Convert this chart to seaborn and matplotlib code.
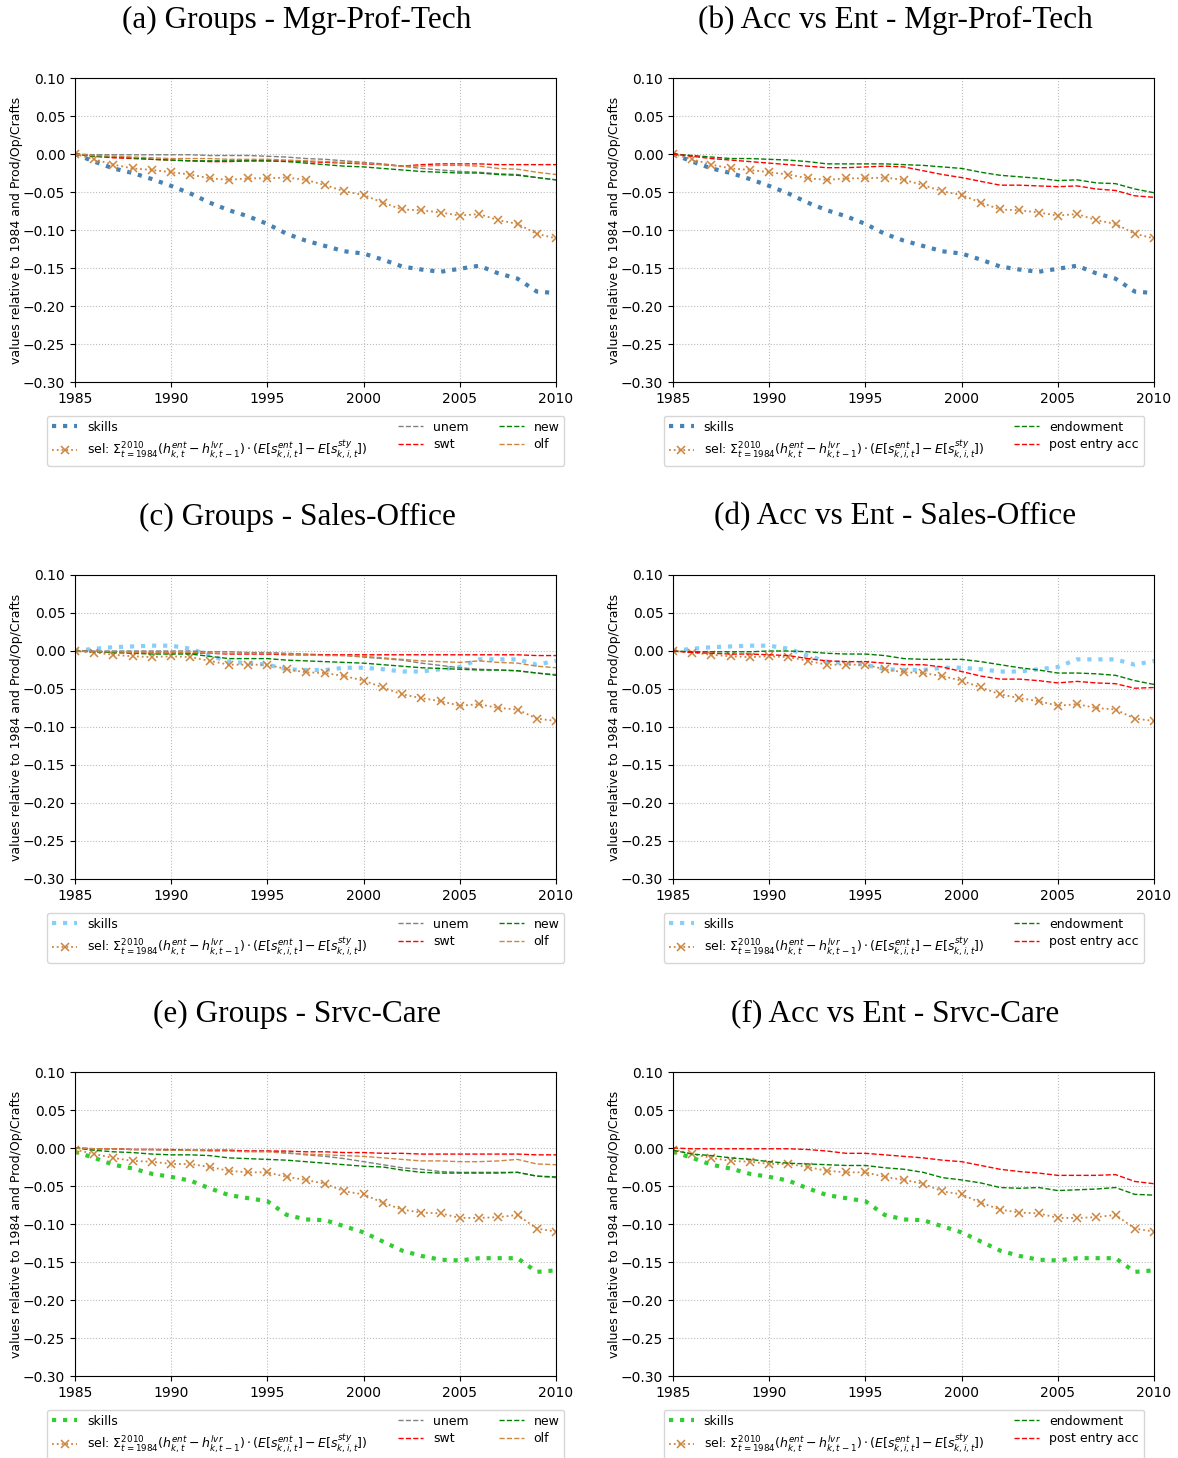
import matplotlib
matplotlib.use("Agg")
import matplotlib.pyplot as plt
import seaborn as sns
import numpy as np

years = list(range(1985, 2011))
xticks = [1985, 1990, 1995, 2000, 2005, 2010]
yticks = [0.10, 0.05, 0.00, -0.05, -0.10, -0.15, -0.20, -0.25, -0.30]

titles_groups = ["(a) Groups - Mgr-Prof-Tech", "(c) Groups - Sales-Office", "(e) Groups - Srvc-Care"]
titles_acc = ["(b) Acc vs Ent - Mgr-Prof-Tech", "(d) Acc vs Ent - Sales-Office", "(f) Acc vs Ent - Srvc-Care"]

# --- Mgr-Prof-Tech ---
skills_mpt = [0, -0.010, -0.019, -0.025, -0.033, -0.042, -0.052, -0.064, -0.074, -0.082, -0.092, -0.105, -0.114,
              -0.121, -0.128, -0.131, -0.139, -0.148, -0.152, -0.155, -0.151, -0.147, -0.157, -0.164, -0.181, -0.183]
sel_mpt = [0, -0.007, -0.014, -0.019, -0.021, -0.024, -0.027, -0.032, -0.034, -0.032, -0.032, -0.031, -0.034,
           -0.041, -0.049, -0.054, -0.064, -0.073, -0.074, -0.077, -0.081, -0.079, -0.087, -0.092, -0.105, -0.111]
unem_mpt = [0, -0.001, -0.001, -0.001, -0.001, -0.001, -0.001, -0.002, -0.002, -0.002, -0.003, -0.004, -0.006,
            -0.007, -0.009, -0.011, -0.013, -0.016, -0.019, -0.021, -0.023, -0.024, -0.026, -0.027, -0.031, -0.034]
swt_mpt = [0, -0.003, -0.005, -0.006, -0.007, -0.008, -0.009, -0.010, -0.010, -0.009, -0.009, -0.009, -0.010,
           -0.011, -0.012, -0.013, -0.014, -0.016, -0.014, -0.013, -0.013, -0.013, -0.014, -0.014, -0.014, -0.014]
new_mpt = [0, -0.003, -0.004, -0.005, -0.007, -0.008, -0.009, -0.009, -0.009, -0.009, -0.009, -0.010, -0.012,
           -0.014, -0.016, -0.017, -0.019, -0.021, -0.023, -0.024, -0.025, -0.025, -0.027, -0.028, -0.031, -0.034]
olf_mpt = [0, -0.002, -0.003, -0.004, -0.005, -0.006, -0.006, -0.006, -0.007, -0.007, -0.007, -0.008, -0.009,
           -0.010, -0.011, -0.012, -0.014, -0.016, -0.016, -0.015, -0.015, -0.016, -0.019, -0.020, -0.024, -0.027]
endow_mpt = [0, -0.002, -0.004, -0.006, -0.006, -0.007, -0.008, -0.010, -0.013, -0.013, -0.013, -0.013, -0.014,
             -0.015, -0.017, -0.019, -0.024, -0.028, -0.030, -0.032, -0.035, -0.034, -0.038, -0.039, -0.046, -0.051]
acc_mpt = [0, -0.003, -0.006, -0.008, -0.010, -0.012, -0.014, -0.016, -0.018, -0.018, -0.017, -0.016, -0.017,
           -0.022, -0.027, -0.031, -0.036, -0.041, -0.041, -0.042, -0.043, -0.042, -0.046, -0.048, -0.055, -0.057]

# --- Sales-Office ---
skills_so = [0, 0.003, 0.005, 0.006, 0.007, 0.007, 0.003, -0.006, -0.014, -0.016, -0.018, -0.024, -0.025,
             -0.025, -0.022, -0.022, -0.024, -0.027, -0.027, -0.024, -0.021, -0.011, -0.011, -0.011, -0.018, -0.013]
sel_so = [0, -0.002, -0.005, -0.007, -0.008, -0.007, -0.008, -0.013, -0.018, -0.018, -0.018, -0.024, -0.028,
          -0.029, -0.033, -0.039, -0.048, -0.057, -0.062, -0.066, -0.072, -0.070, -0.075, -0.077, -0.089, -0.092]
unem_so = [0, 0.000, 0.000, 0.000, 0.000, 0.000, 0.000, -0.001, -0.001, -0.002, -0.002, -0.003, -0.004,
           -0.005, -0.006, -0.008, -0.010, -0.012, -0.016, -0.019, -0.022, -0.024, -0.025, -0.026, -0.029, -0.031]
swt_so = [0, -0.001, -0.002, -0.002, -0.002, -0.002, -0.003, -0.003, -0.004, -0.004, -0.004, -0.005, -0.005,
          -0.005, -0.005, -0.005, -0.005, -0.005, -0.005, -0.005, -0.005, -0.005, -0.005, -0.005, -0.006, -0.006]
new_so = [0, -0.001, -0.002, -0.003, -0.004, -0.004, -0.004, -0.007, -0.010, -0.010, -0.010, -0.012, -0.013,
          -0.014, -0.015, -0.016, -0.018, -0.020, -0.022, -0.023, -0.024, -0.025, -0.025, -0.026, -0.029, -0.032]
olf_so = [0, -0.001, -0.001, -0.002, -0.002, -0.002, -0.002, -0.003, -0.003, -0.003, -0.003, -0.004, -0.005,
          -0.006, -0.006, -0.007, -0.009, -0.011, -0.013, -0.014, -0.015, -0.013, -0.015, -0.016, -0.020, -0.022]
endow_so = [0, -0.001, -0.001, -0.001, -0.001, 0.000, 0.000, -0.001, -0.003, -0.004, -0.004, -0.006, -0.010,
            -0.011, -0.011, -0.011, -0.014, -0.018, -0.022, -0.025, -0.029, -0.029, -0.030, -0.032, -0.039, -0.044]
acc_so = [0, -0.002, -0.003, -0.004, -0.004, -0.005, -0.006, -0.010, -0.013, -0.014, -0.014, -0.016, -0.018,
          -0.018, -0.021, -0.027, -0.033, -0.037, -0.037, -0.039, -0.042, -0.040, -0.042, -0.043, -0.049, -0.048]

# --- Srvc-Care ---
skills_sc = [-0.005, -0.013, -0.022, -0.027, -0.034, -0.038, -0.043, -0.053, -0.062, -0.066, -0.070, -0.088, -0.094,
             -0.095, -0.103, -0.111, -0.123, -0.135, -0.142, -0.147, -0.148, -0.145, -0.145, -0.145, -0.163, -0.161]
sel_sc = [-0.002, -0.008, -0.013, -0.017, -0.018, -0.021, -0.021, -0.025, -0.030, -0.032, -0.032, -0.038, -0.042,
          -0.047, -0.057, -0.061, -0.072, -0.081, -0.085, -0.086, -0.092, -0.092, -0.091, -0.088, -0.106, -0.110]
unem_sc = [0, -0.001, -0.001, -0.002, -0.002, -0.003, -0.003, -0.003, -0.003, -0.004, -0.004, -0.006, -0.009,
           -0.011, -0.014, -0.018, -0.022, -0.026, -0.028, -0.031, -0.032, -0.032, -0.032, -0.032, -0.037, -0.039]
swt_sc = [0, -0.001, -0.001, -0.002, -0.002, -0.002, -0.003, -0.003, -0.003, -0.004, -0.004, -0.004, -0.005,
          -0.005, -0.006, -0.006, -0.007, -0.007, -0.008, -0.008, -0.008, -0.008, -0.008, -0.008, -0.009, -0.009]
new_sc = [0, -0.003, -0.005, -0.006, -0.008, -0.009, -0.009, -0.010, -0.013, -0.014, -0.015, -0.016, -0.018,
          -0.020, -0.022, -0.024, -0.025, -0.029, -0.032, -0.033, -0.033, -0.033, -0.033, -0.032, -0.037, -0.038]
olf_sc = [0, -0.001, -0.001, -0.002, -0.002, -0.003, -0.003, -0.004, -0.004, -0.005, -0.005, -0.007, -0.008,
          -0.009, -0.010, -0.011, -0.013, -0.015, -0.017, -0.017, -0.018, -0.018, -0.017, -0.015, -0.021, -0.022]
endow_sc = [-0.003, -0.008, -0.010, -0.013, -0.015, -0.018, -0.020, -0.021, -0.022, -0.023, -0.023, -0.026, -0.028,
            -0.032, -0.039, -0.042, -0.046, -0.052, -0.053, -0.052, -0.056, -0.055, -0.054, -0.052, -0.061, -0.062]
acc_sc = [0, -0.001, -0.001, -0.001, -0.001, -0.001, -0.001, -0.002, -0.004, -0.007, -0.007, -0.009, -0.011,
          -0.013, -0.016, -0.018, -0.023, -0.028, -0.031, -0.033, -0.036, -0.036, -0.036, -0.035, -0.044, -0.047]

SEL_LABEL = (r"sel: $\Sigma_{t=1984}^{2010}(h_{k,t}^{ent}-h_{k,t-1}^{lvr})"
             r"\cdot(E[s_{k,i,t}^{ent}]-E[s_{k,i,t}^{sty}])$")
YLABEL = "values relative to 1984 and Prod/Op/Crafts"

rows = [
    dict(skills=skills_mpt, sel=sel_mpt, unem=unem_mpt, swt=swt_mpt, new=new_mpt, olf=olf_mpt,
         endow=endow_mpt, acc=acc_mpt, scol="steelblue"),
    dict(skills=skills_so, sel=sel_so, unem=unem_so, swt=swt_so, new=new_so, olf=olf_so,
         endow=endow_so, acc=acc_so, scol="lightskyblue"),
    dict(skills=skills_sc, sel=sel_sc, unem=unem_sc, swt=swt_sc, new=new_sc, olf=olf_sc,
         endow=endow_sc, acc=acc_sc, scol="limegreen"),
]

W, H = 1178, 1458
fig = plt.figure(figsize=(W / 100, H / 100), dpi=100)

col_left = [75, 673]
ax_w = 481
row_top = [78, 575, 1072]
ax_h = 304
title_y = [20, 517, 1014]
title_x = [297, 895]


def common(ax, data):
    sns.lineplot(x=years, y=data["skills"], ax=ax, color=data["scol"], linestyle=":", linewidth=3,
                 label="skills")
    sns.lineplot(x=years, y=data["sel"], ax=ax, color="peru", linestyle=":", linewidth=1.3,
                 marker="x", markersize=6, markeredgewidth=1.1, markeredgecolor="peru", label=SEL_LABEL)


def style(ax):
    ax.set_xlim(1985, 2010)
    ax.set_ylim(-0.30, 0.10)
    ax.set_xticks(xticks)
    ax.set_yticks(yticks)
    ax.grid(True, linestyle=":", color="#bbbbbb", linewidth=0.8)
    ax.set_axisbelow(True)
    ax.set_ylabel(YLABEL, fontsize=9)
    ax.yaxis.set_label_coords(-0.108, 0.5)
    ax.set_xlabel("")
    ax.tick_params(labelsize=10)


for r, data in enumerate(rows):
    for c in range(2):
        left = col_left[c] / W
        bottom = 1 - (row_top[r] + ax_h) / H
        ax = fig.add_axes([left, bottom, ax_w / W, ax_h / H])
        common(ax, data)
        if c == 0:
            sns.lineplot(x=years, y=data["unem"], ax=ax, color="gray", linestyle="--", linewidth=1, label="unem")
            sns.lineplot(x=years, y=data["swt"], ax=ax, color="red", linestyle="--", linewidth=1, label="swt")
            sns.lineplot(x=years, y=data["new"], ax=ax, color="green", linestyle="--", linewidth=1, label="new")
            sns.lineplot(x=years, y=data["olf"], ax=ax, color="peru", linestyle="--", linewidth=1, label="olf")
            ncol = 3
            ttl = titles_groups[r]
        else:
            sns.lineplot(x=years, y=data["endow"], ax=ax, color="green", linestyle="--", linewidth=1,
                         label="endowment")
            sns.lineplot(x=years, y=data["acc"], ax=ax, color="red", linestyle="--", linewidth=1,
                         label="post entry acc")
            ncol = 2
            ttl = titles_acc[r]
        style(ax)
        ax.legend(loc="upper center", bbox_to_anchor=(0.48, -0.09), ncol=ncol, fontsize=9,
                  frameon=True, labelspacing=0.35, columnspacing=2.4)
        fig.text(title_x[c] / W, 1 - title_y[r] / H, ttl, ha="center", va="center",
                 fontsize=22.5, family="Liberation Serif")

fig.savefig("out.png", dpi=100)
